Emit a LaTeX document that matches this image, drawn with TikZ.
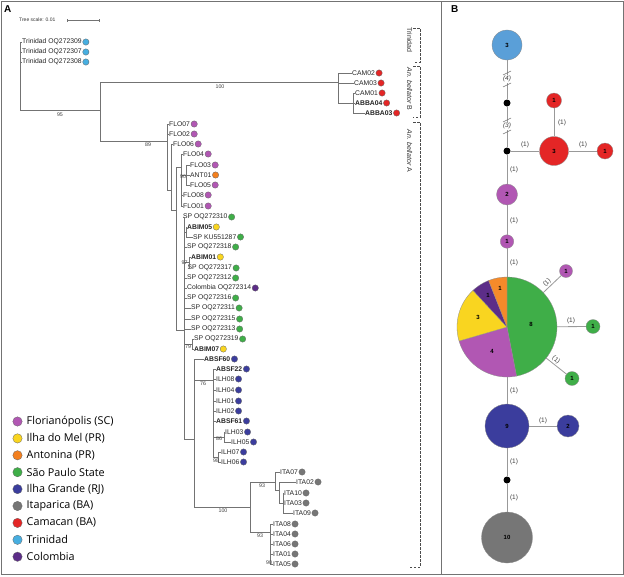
\documentclass[tikz,border=0pt]{standalone}
\usepackage{fontspec}
\setmainfont{Liberation Sans}
\newfontfamily\legfont{Open Sans}
\usetikzlibrary{calc}
\definecolor{cFlo}{HTML}{B157B3}
\definecolor{cMel}{HTML}{F9D520}
\definecolor{cAnt}{HTML}{F3801F}
\definecolor{cSP}{HTML}{3FAE48}
\definecolor{cIG}{HTML}{3B3D9D}
\definecolor{cIta}{HTML}{767676}
\definecolor{cCam}{HTML}{E42626}
\definecolor{cTri}{HTML}{47AEE0}
\definecolor{cCol}{HTML}{5C2D88}
\definecolor{cTriB}{HTML}{5A9FD8}
\definecolor{cOra}{HTML}{F58A2A}
\tikzset{
  br/.style={draw=black!55, line width=0.45pt},
  tl/.style={anchor=west, inner sep=0pt, font=\fontsize{6.8}{7}\selectfont, text=black!85},
  tlb/.style={tl, font=\fontsize{6.8}{7}\selectfont\bfseries},
  tdot/.style={circle, draw=black!60, line width=0.3pt, minimum size=6.4pt, inner sep=0pt},
  bs/.style={font=\fontsize{5.3}{6}\selectfont, text=black!75, inner sep=0.3pt},
  legdot/.style={circle, draw=black!60, line width=0.3pt, minimum size=9.4pt, inner sep=0pt},
  legtxt/.style={anchor=west, inner sep=0pt, font=\legfont\fontsize{10.8}{12}\selectfont, text=black},
  brk/.style={draw=black!70, line width=0.6pt, dash pattern=on 2.5pt off 1.5pt},
  brktxt/.style={font=\fontsize{7}{8}\selectfont, text=black!80, rotate=-90, inner sep=0pt},
  hap/.style={circle, draw=black!45, line width=0.3pt, inner sep=0pt, font=\fontsize{6}{7}\selectfont\bfseries},
  med/.style={circle, fill=black, inner sep=0pt, minimum size=7pt},
  net/.style={draw=black!40, line width=0.8pt},
  mut/.style={font=\fontsize{6.5}{7}\selectfont, text=black!75, inner sep=0.5pt},
  frame/.style={draw=black!55, line width=0.8pt}
}
\newcommand\tipn[5]{\node[tl] (#1) at (#2,#3) {#4}; \node[tdot, fill=#5] (#1d) at ([xshift=4pt]#1.east) {};}
\newcommand\tipb[5]{\node[tlb] (#1) at (#2,#3) {#4}; \node[tdot, fill=#5] (#1d) at ([xshift=4pt]#1.east) {};}
\begin{document}
\begin{tikzpicture}[x=1pt,y=-1pt]
\useasboundingbox (0,0) rectangle (624,576);
\fill[white] (0,0) rectangle (624,576);
\draw[frame] (1,1) rectangle (623,574);
\draw[frame] (441.5,1) -- (441.5,574);
\node[font=\bfseries\fontsize{10}{11}\selectfont, anchor=west, inner sep=0pt] (lA) at (4,9) {A};
\node[font=\bfseries\fontsize{10}{11}\selectfont, anchor=west, inner sep=0pt] (lB) at (451,9) {B};
% tree scale
\node[font=\fontsize{5}{6}\selectfont, anchor=west, inner sep=0pt, text=black!80] (ts) at (19,20) {Tree scale: 0.01};
\coordinate (sb1) at (67,20); \coordinate (sb2) at (99,20);
\draw[br] (sb1) -- (sb2);
\draw[br] ([yshift=-1.5pt]sb1) -- ([yshift=1.5pt]sb1);
\draw[br] ([yshift=-1.5pt]sb2) -- ([yshift=1.5pt]sb2);
% ---------- tips
\tipn{TRI09}{22}{42}{Trinidad OQ272309}{cTri}
\tipn{TRI07}{22}{52}{Trinidad OQ272307}{cTri}
\tipn{TRI08}{22}{62}{Trinidad OQ272308}{cTri}
\tipn{CAM02}{352}{73}{CAM02}{cCam}
\tipn{CAM03}{354}{83}{CAM03}{cCam}
\tipn{CAM01}{355}{93}{CAM01}{cCam}
\tipb{ABBA04}{355}{103}{ABBA04}{cCam}
\tipb{ABBA03}{365}{113}{ABBA03}{cCam}
\tipn{FLO07}{169}{124}{FLO07}{cFlo}
\tipn{FLO02}{169}{134}{FLO02}{cFlo}
\tipn{FLO06}{173}{144}{FLO06}{cFlo}
\tipn{FLO04}{183}{154}{FLO04}{cFlo}
\tipn{FLO03}{190}{165}{FLO03}{cFlo}
\tipn{ANT01}{190}{175}{ANT01}{cAnt}
\tipn{FLO05}{190}{185}{FLO05}{cFlo}
\tipn{FLO08}{183}{195}{FLO08}{cFlo}
\tipn{FLO01}{183}{206}{FLO01}{cFlo}
\tipn{SP310}{183}{217}{SP OQ272310}{cSP}
\tipb{ABIM05}{187}{227}{ABIM05}{cMel}
\tipn{SPKU}{193}{237}{SP KU551287}{cSP}
\tipn{SP318}{187}{247}{SP OQ272318}{cSP}
\tipb{ABIM01}{191}{257}{ABIM01}{cMel}
\tipn{SP317}{187.5}{268}{SP OQ272317}{cSP}
\tipn{SP312}{187}{278}{SP OQ272312}{cSP}
\tipn{COL}{187}{288}{Colombia OQ272314}{cCol}
\tipn{SP316}{187}{298}{SP OQ272316}{cSP}
\tipn{SP311}{191}{308}{SP OQ272311}{cSP}
\tipn{SP315}{191}{319}{SP OQ272315}{cSP}
\tipn{SP313}{191}{329}{SP OQ272313}{cSP}
\tipn{SP319}{194}{339}{SP OQ272319}{cSP}
\tipb{ABIM07}{194}{349}{ABIM07}{cMel}
\tipb{ABSF60}{204}{359}{ABSF60}{cIG}
\tipb{ABSF22}{216}{369}{ABSF22}{cIG}
\tipn{ILH08}{216}{379}{ILH08}{cIG}
\tipn{ILH04}{216}{390}{ILH04}{cIG}
\tipn{ILH01}{216}{401}{ILH01}{cIG}
\tipn{ILH02}{216}{411}{ILH02}{cIG}
\tipb{ABSF61}{216}{421}{ABSF61}{cIG}
\tipn{ILH03}{225}{432}{ILH03}{cIG}
\tipn{ILH05}{231}{442}{ILH05}{cIG}
\tipn{ILH07}{221}{452}{ILH07}{cIG}
\tipn{ILH06}{221}{462}{ILH06}{cIG}
\tipn{ITA07}{280}{472}{ITA07}{cIta}
\tipn{ITA02}{296}{482}{ITA02}{cIta}
\tipn{ITA10}{284}{493}{ITA10}{cIta}
\tipn{ITA03}{284}{503}{ITA03}{cIta}
\tipn{ITA09}{293}{513}{ITA09}{cIta}
\tipn{ITA08}{273}{524}{ITA08}{cIta}
\tipn{ITA04}{273}{534}{ITA04}{cIta}
\tipn{ITA06}{273}{544}{ITA06}{cIta}
\tipn{ITA01}{273}{554}{ITA01}{cIta}
\tipn{ITA05}{273}{564}{ITA05}{cIta}
% ---------- internal nodes
\coordinate (r) at (20,76);
\coordinate (nB) at (100,110);
\coordinate (nC) at (338,82);
\coordinate (nAB) at (353,103);
\coordinate (nA) at (167,141);
\coordinate (n2) at (171,190);
\coordinate (n3) at (176,210);
\coordinate (n4) at (181,167);
\coordinate (n5) at (186,175);
\coordinate (nbig) at (184,330);
\coordinate (nA5) at (186,232);
\coordinate (n97) at (189,262);
\coordinate (n79) at (192,344);
\coordinate (nIG) at (194,439);
\coordinate (nIL) at (213,380);
\coordinate (n86) at (224,437);
\coordinate (n98) at (218,457);
\coordinate (nIT) at (250,507);
\coordinate (nI1) at (275,482);
\coordinate (nI1b) at (279,490);
\coordinate (nI1c) at (283,503);
\coordinate (nI2) at (270,532);
% ---------- branches
\foreach \t in {TRI09,TRI07,TRI08} \draw[br] (r) |- (\t.west);
\draw[br] (r) |- (nB);
\draw[br] (nB) |- (nC);
\draw[br] (nB) |- (nA);
\foreach \t in {CAM02,CAM03} \draw[br] (nC) |- (\t.west);
\draw[br] (nC) |- (nAB);
\foreach \t in {CAM01,ABBA04,ABBA03} \draw[br] (nAB) |- (\t.west);
\foreach \t in {FLO07,FLO02} \draw[br] (nA) |- (\t.west);
\draw[br] (nA) |- (n2);
\draw[br] (n2) |- (FLO06.west);
\draw[br] (n2) |- (n3);
\draw[br] (n3) |- (n4);
\draw[br] (n3) |- (nbig);
\foreach \t in {FLO04,FLO08,FLO01} \draw[br] (n4) |- (\t.west);
\draw[br] (n4) |- (n5);
\foreach \t in {FLO03,ANT01,FLO05} \draw[br] (n5) |- (\t.west);
\foreach \t in {SP310,SP318,SP312,COL,SP316,SP311,SP315,SP313} \draw[br] (nbig) |- (\t.west);
\draw[br] (nbig) |- (nA5);
\draw[br] (nbig) |- (n97);
\draw[br] (nbig) |- (n79);
\draw[br] (nbig) |- (nIG);
\foreach \t in {ABIM05,SPKU} \draw[br] (nA5) |- (\t.west);
\foreach \t in {ABIM01,SP317} \draw[br] (n97) |- (\t.west);
\foreach \t in {SP319,ABIM07} \draw[br] (n79) |- (\t.west);
\draw[br] (nIG) |- (ABSF60.west);
\draw[br] (nIG) |- (nIL);
\draw[br] (nIG) |- (nIT);
\foreach \t in {ABSF22,ILH08,ILH04,ILH01,ILH02,ABSF61} \draw[br] (nIL) |- (\t.west);
\draw[br] (nIL) |- (n86);
\draw[br] (nIL) |- (n98);
\foreach \t in {ILH03,ILH05} \draw[br] (n86) |- (\t.west);
\foreach \t in {ILH07,ILH06} \draw[br] (n98) |- (\t.west);
\draw[br] (nIT) |- (nI1);
\draw[br] (nIT) |- (nI2);
\draw[br] (nI1) |- (ITA07.west);
\draw[br] (nI1) |- (nI1b);
\draw[br] (nI1b) |- (ITA02.west);
\draw[br] (nI1b) |- (nI1c);
\foreach \t in {ITA10,ITA03,ITA09} \draw[br] (nI1c) |- (\t.west);
\foreach \t in {ITA08,ITA04,ITA06,ITA01,ITA05} \draw[br] (nI2) |- (\t.west);
% ---------- bootstrap values
\node[bs] (b95) at (60,114.5) {95};
\node[bs] (b100a) at (220,86.5) {100};
\node[bs] (b89) at (148,145) {89};
\node[bs] (b90a) at (183,177) {90};
\node[bs] (b97) at (184.5,263) {97};
\node[bs] (b79) at (188,347) {79};
\node[bs] (b76) at (203,384) {76};
\node[bs] (b86) at (219,439) {86};
\node[bs] (b98) at (216,461) {98};
\node[bs] (b93a) at (262,486) {93};
\node[bs] (b100b) at (223,511) {100};
\node[bs] (b93b) at (260,536) {93};
\node[bs] (b90b) at (269,563) {90};
% ---------- clade brackets
\draw[brk] (413,28) -- (420,28) -- (420,62) -- (413,62);
\draw[brk] (413,66) -- (420,66) -- (420,117) -- (413,117);
\draw[brk] (413,122) -- (420,122) -- (420,567) -- (410,567);
\node[brktxt] (kT) at (409.5,40) {Trinidad};
\node[brktxt] (kB) at (409.5,89) {\textit{An. bellator} B};
\node[brktxt] (kA) at (409.5,151) {\textit{An. bellator} A};
% ---------- legend
\foreach \c/\t [count=\i] in {cFlo/{Florianópolis (SC)},cMel/{Ilha do Mel (PR)},cAnt/{Antonina (PR)},cSP/{São Paulo State},cIG/{Ilha Grande (RJ)},cIta/{Itaparica (BA)},cCam/{Camacan (BA)},cTri/{Trinidad},cCol/{Colombia}}{
  \node[legdot, fill=\c] (ld\i) at (17.5,{421.5+16.9*(\i-1)}) {};
  \node[legtxt] (lt\i) at (26.5,{421.5+16.9*(\i-1)}) {\t};
}
% ---------- haplotype network
\node[hap, fill=cTriB, minimum size=30pt] (tri) at (507,45) {3};
\node[med] (m1) at (507,103) {};
\node[med] (m2) at (507,151) {};
\node[hap, fill=cCam, minimum size=29pt] (cam3) at (554,151) {3};
\node[hap, fill=cCam, minimum size=15pt] (cam1a) at (554,100.5) {1};
\node[hap, fill=cCam, minimum size=16pt] (cam1b) at (605,151) {1};
\node[hap, fill=cFlo, minimum size=21pt] (flo2) at (507,194.5) {2};
\node[hap, fill=cFlo, minimum size=13.5pt] (flo1) at (507,241.5) {1};
\coordinate (pie) at (507,327);
\node[hap, fill=cFlo, minimum size=13pt] (p1) at (566,271) {1};
\node[hap, fill=cSP, minimum size=14pt] (g1) at (593,326.5) {1};
\node[hap, fill=cSP, minimum size=14pt] (g2) at (572,378.5) {1};
\node[hap, fill=cIG, minimum size=44pt] (ig9) at (507,426) {9};
\node[hap, fill=cIG, minimum size=22pt] (ig2) at (568,426) {2};
\node[med] (m3) at (507,480) {};
\node[hap, fill=cIta, minimum size=51pt] (ita) at (507,537.5) {10};
% edges
\draw[net] (tri) -- (m1);
\draw[net] (m1) -- (m2);
\draw[net] (m2) -- (cam3);
\draw[net] (cam3) -- (cam1a);
\draw[net] (cam3) -- (cam1b);
\draw[net] (m2) -- (flo2);
\draw[net] (flo2) -- (flo1);
\draw[net] ($(pie)!50pt!(flo1)$) -- (flo1);
\draw[net] ($(pie)!50pt!(p1)$) -- (p1);
\draw[net] ($(pie)!50pt!(g1)$) -- (g1);
\draw[net] ($(pie)!50pt!(g2)$) -- (g2);
\draw[net] ($(pie)!50pt!(ig9)$) -- (ig9);
\draw[net] (ig9) -- (ig2);
\draw[net] (ig9) -- (m3);
\draw[net] (m3) -- (ita);
% pie slices (angles flipped because y points down)
\begin{scope}[draw=black!45, line width=0.3pt]
\filldraw[fill=cSP] (pie) -- ++(-90:50) arc[start angle=-90, end angle=79, radius=50] -- cycle;
\filldraw[fill=cFlo] (pie) -- ++(79:50) arc[start angle=79, end angle=163.7, radius=50] -- cycle;
\filldraw[fill=cMel] (pie) -- ++(163.7:50) arc[start angle=163.7, end angle=227.2, radius=50] -- cycle;
\filldraw[fill=cCol] (pie) -- ++(227.2:50) arc[start angle=227.2, end angle=248.4, radius=50] -- cycle;
\filldraw[fill=cOra] (pie) -- ++(248.4:50) arc[start angle=248.4, end angle=270, radius=50] -- cycle;
\end{scope}
\node[font=\fontsize{6}{7}\selectfont\bfseries] (s8) at (531,324) {8};
\node[font=\fontsize{6}{7}\selectfont\bfseries] (s4) at (492,351) {4};
\node[font=\fontsize{6}{7}\selectfont\bfseries] (s3) at (478,317) {3};
\node[font=\fontsize{6}{7}\selectfont\bfseries] (s1c) at (488,295) {1};
\node[font=\fontsize{6}{7}\selectfont\bfseries] (s1o) at (500,288) {1};
% mutation labels
\node[mut, fill=white, font=\fontsize{6.5}{7}\selectfont\itshape] (mu4) at (507,79) {(4)};
\draw[black!55, line width=0.5pt] (503,75) -- (511,71);
\draw[black!55, line width=0.5pt] (503,87) -- (511,83);
\node[mut, fill=white, font=\fontsize{6.5}{7}\selectfont\itshape] (mu3) at (507,126) {(3)};
\draw[black!55, line width=0.5pt] (503,122) -- (511,118);
\draw[black!55, line width=0.5pt] (503,134) -- (511,130);
\node[mut] (e1) at (525,145) {(1)};
\node[mut] (e2) at (562,123) {(1)};
\node[mut] (e3) at (583,145) {(1)};
\node[mut] (e4) at (514,170) {(1)};
\node[mut] (e5) at (514,221) {(1)};
\node[mut] (e6) at (514,263) {(1)};
\node[mut, rotate=43.5] (e7) at (547,283) {(1)};
\node[mut] (e8) at (571,321) {(1)};
\node[mut, rotate=-38] (e9) at (556,360) {(1)};
\node[mut] (e10) at (514,391) {(1)};
\node[mut] (e11) at (543,421) {(1)};
\node[mut] (e12) at (514,462) {(1)};
\node[mut] (e13) at (514,498) {(1)};
\end{tikzpicture}
\end{document}
